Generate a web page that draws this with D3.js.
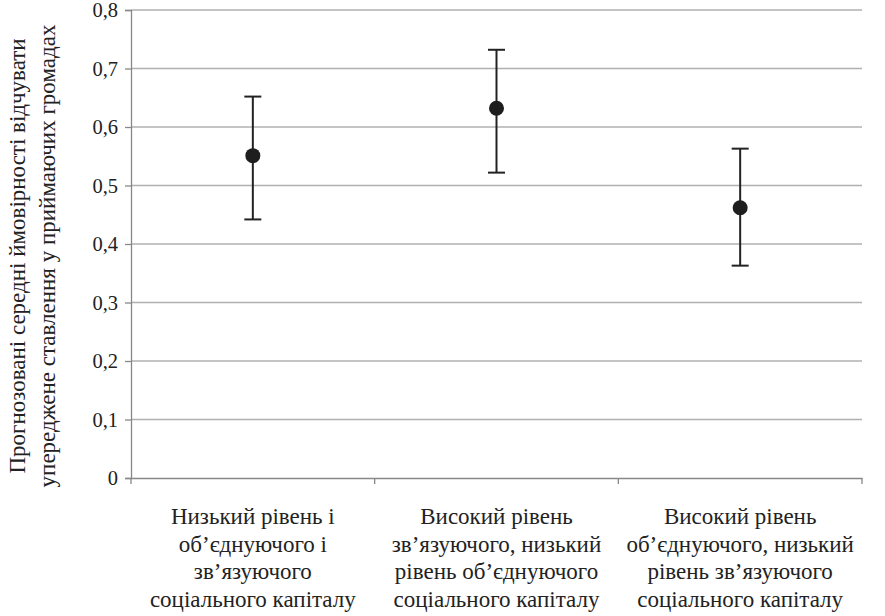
<!DOCTYPE html>
<html>
<head>
<meta charset="utf-8">
<script src="https://cdn.jsdelivr.net/npm/d3@7"></script>
</head>
<body style="margin:0">
<svg width="885" height="616"></svg>
<script>
let width = 885, height = 616;
let fontName = "'Liberation Serif'";

let categories = [
  ["Низький рівень і", "об’єднуючого і", "зв’язуючого", "соціального капіталу"],
  ["Високий рівень", "зв’язуючого, низький", "рівень об’єднуючого", "соціального капіталу"],
  ["Високий рівень", "об’єднуючого, низький", "рівень зв’язуючого", "соціального капіталу"]
];
let means = [0.551, 0.632, 0.462];
let lower = [0.442, 0.522, 0.363];
let upper = [0.652, 0.732, 0.563];
let yTicks = [0, 0.1, 0.2, 0.3, 0.4, 0.5, 0.6, 0.7, 0.8];
let yTitle = ["Прогнозовані середні ймовірності відчувати", "упереджене ставлення у приймаючих громадах"];

let margin = {left: 131, right: 23, top: 10, bottom: 138};

let svg = d3.select("svg");

let x = d3.scaleBand()
    .domain(d3.range(categories.length))
    .range([margin.left, width - margin.right]);

let y = d3.scaleLinear()
    .domain([0, 0.8])
    .range([height - margin.bottom, margin.top]);

// gridlines
svg.append("g")
    .selectAll("line")
    .data(yTicks.filter(d => d > 0))
    .enter()
    .append("line")
    .attr("x1", margin.left)
    .attr("x2", width - margin.right)
    .attr("y1", d => y(d))
    .attr("y2", d => y(d))
    .attr("stroke", "#b0b0b0")
    .attr("stroke-width", 1.3);

// y axis: lines from d3, labels drawn as plain text
let yAxis = svg.append("g")
    .attr("transform", "translate(" + margin.left + ",0)")
    .call(d3.axisLeft(y).tickValues(yTicks).tickSize(6).tickFormat(""));
yAxis.select(".domain").attr("stroke", "#888").attr("stroke-width", 1.3);
yAxis.selectAll(".tick line").attr("stroke", "#888").attr("stroke-width", 1.3);

svg.selectAll(".ylab")
    .data(yTicks)
    .enter()
    .append("text")
    .attr("class", "ylab")
    .attr("x", margin.left - 13)
    .attr("y", d => y(d) + 7)
    .attr("text-anchor", "end")
    .style("font-family", fontName)
    .style("font-size", "20.5px")
    .style("fill", "#222")
    .text(d => d == 0 ? "0" : d3.format(".1f")(d).replace(".", ","));

// x axis
let xAxis = svg.append("g")
    .attr("transform", "translate(0," + y(0) + ")")
    .call(d3.axisBottom(x).tickSize(0).tickFormat(""));
xAxis.select(".domain").attr("stroke", "#888").attr("stroke-width", 1.3);

// category boundary ticks
svg.append("g")
    .selectAll("line")
    .data(d3.range(categories.length + 1))
    .enter()
    .append("line")
    .attr("x1", d => margin.left + d * x.bandwidth())
    .attr("x2", d => margin.left + d * x.bandwidth())
    .attr("y1", y(0))
    .attr("y2", y(0) + 6)
    .attr("stroke", "#888")
    .attr("stroke-width", 1.3);

// category labels, one text per line
categories.forEach((lines, i) => {
  svg.selectAll(".cat" + i)
      .data(lines)
      .enter()
      .append("text")
      .attr("class", "cat" + i)
      .attr("x", x(i) + x.bandwidth() / 2)
      .attr("y", (d, j) => y(0) + 46 + j * 27.7)
      .attr("text-anchor", "middle")
      .style("font-family", fontName)
      .style("font-size", "23px")
      .style("fill", "#222")
      .text(d => d);
});

// y title
svg.selectAll(".ytitle")
    .data(yTitle)
    .enter()
    .append("text")
    .attr("class", "ytitle")
    .attr("transform", (d, i) => "translate(" + (25 + i * 30) + ",256) rotate(-90)")
    .attr("text-anchor", "middle")
    .style("font-family", fontName)
    .style("font-size", "23px")
    .style("fill", "#222")
    .text(d => d);

// error bars
let cx = i => x(i) + x.bandwidth() / 2;
let bars = svg.append("g")
    .selectAll("g")
    .data(means)
    .enter()
    .append("g")
    .attr("stroke", "#222")
    .attr("stroke-width", 2);
bars.append("line")
    .attr("x1", (d, i) => cx(i)).attr("x2", (d, i) => cx(i))
    .attr("y1", (d, i) => y(lower[i])).attr("y2", (d, i) => y(upper[i]));
bars.append("line")
    .attr("x1", (d, i) => cx(i) - 8.5).attr("x2", (d, i) => cx(i) + 8.5)
    .attr("y1", (d, i) => y(upper[i])).attr("y2", (d, i) => y(upper[i]));
bars.append("line")
    .attr("x1", (d, i) => cx(i) - 8.5).attr("x2", (d, i) => cx(i) + 8.5)
    .attr("y1", (d, i) => y(lower[i])).attr("y2", (d, i) => y(lower[i]));

// points
svg.append("g")
    .selectAll("circle")
    .data(means)
    .enter()
    .append("circle")
    .attr("cx", (d, i) => cx(i))
    .attr("cy", d => y(d))
    .attr("r", 7.5)
    .attr("fill", "#1e1e1e");
</script>
</body>
</html>
